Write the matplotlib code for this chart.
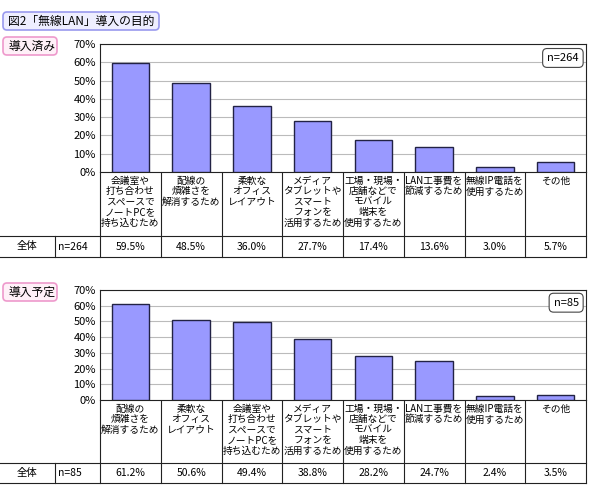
import matplotlib.pyplot as plt
from matplotlib.patches import FancyBboxPatch, Rectangle

plt.rcParams['font.family'] = ['Noto Sans CJK JP', 'DejaVu Sans']

title = "図2「無線LAN」導入の目的"

done_labels = ["会議室や\n打ち合わせ\nスペースで\nノートPCを\n持ち込むため", "配線の\n煩雑さを\n解消するため",
               "柔軟な\nオフィス\nレイアウト", "メディア\nタブレットや\nスマート\nフォンを\n活用するため",
               "工場・現場・\n店舗などで\nモバイル\n端末を\n使用するため", "LAN工事費を\n節減するため",
               "無線IP電話を\n使用するため", "その他"]
done_values = [59.5, 48.5, 36.0, 27.7, 17.4, 13.6, 3.0, 5.7]
done_n = 264

plan_labels = ["配線の\n煩雑さを\n解消するため", "柔軟な\nオフィス\nレイアウト",
               "会議室や\n打ち合わせ\nスペースで\nノートPCを\n持ち込むため", "メディア\nタブレットや\nスマート\nフォンを\n活用するため",
               "工場・現場・\n店舗などで\nモバイル\n端末を\n使用するため", "LAN工事費を\n節減するため",
               "無線IP電話を\n使用するため", "その他"]
plan_values = [61.2, 50.6, 49.4, 38.8, 28.2, 24.7, 2.4, 3.5]
plan_n = 85

W, H = 590, 495
fig = plt.figure(figsize=(W / 100, H / 100), dpi=100)
bg = fig.add_axes([0, 0, 1, 1])
bg.set_xlim(0, W)
bg.set_ylim(H, 0)
bg.axis('off')

X0, X1 = 100, 586


def tag(x, y, w, h, text, edge, face):
    bg.add_patch(FancyBboxPatch((x, y), w, h, boxstyle="round,pad=0,rounding_size=4",
                                ec=edge, fc=face, lw=1.2))
    bg.text(x + 5, y + h / 2, text, fontsize=8.5, va='center', ha='left')


tag(3, 12, 156, 18, title, '#9999ee', '#eeeeff')


def panel(top, bottom, lab_bottom, row_bottom, name, labels, values, n):
    tag(3, top - 7, 54, 18, name, '#ee99cc', '#fff0f8')
    ax = fig.add_axes([X0 / W, 1 - bottom / H, (X1 - X0) / W, (bottom - top) / H])
    ax.bar(range(len(values)), values, width=0.62, color='#9999ff', edgecolor='#222244', lw=1, zorder=3)
    ax.set_xlim(-0.5, len(values) - 0.5)
    ax.set_ylim(0, 70)
    ax.set_yticks(range(0, 71, 10))
    ax.set_yticklabels([f"{v}%" for v in range(0, 71, 10)], fontsize=8)
    ax.yaxis.grid(True, color='#bbbbbb', lw=0.8, zorder=0)
    ax.set_xticks([])
    ax.tick_params(axis='y', length=0, pad=3)
    for s in ax.spines.values():
        s.set_color('#222222')
    ax.text(0.985, 0.93, f"n={n}", transform=ax.transAxes, ha='right', va='top', fontsize=8,
            bbox=dict(boxstyle="round,pad=0.4,rounding_size=0.4", fc='white', ec='#444444', lw=0.8))
    colw = (X1 - X0) / len(values)
    row_top = lab_bottom
    # table borders
    bg.plot([X0, X0], [bottom, row_bottom], color='#222222', lw=0.8)
    bg.plot([0, X1], [row_top, row_top], color='#222222', lw=0.8)
    bg.plot([0, X1], [row_bottom, row_bottom], color='#222222', lw=0.8)
    bg.plot([55, 55], [row_top, row_bottom], color='#222222', lw=0.8)
    bg.plot([X1, X1], [bottom, row_bottom], color='#222222', lw=0.8)
    ymid = (row_top + row_bottom) / 2
    bg.text(27, ymid, "全体", ha='center', va='center', fontsize=7.5)
    bg.text(58, ymid, f"n={n}", ha='left', va='center', fontsize=7.5)
    for i, (lab, v) in enumerate(zip(labels, values)):
        x = X0 + i * colw
        if i > 0:
            bg.plot([x, x], [bottom, row_bottom], color='#222222', lw=0.8)
        bg.text(x + colw / 2, bottom + 4, lab, ha='center', va='top', fontsize=7, linespacing=1.05)
        bg.text(x + colw / 2, ymid, f"{v:.1f}%", ha='center', va='center', fontsize=7.5)


panel(44, 172, 236, 257, "導入済み", done_labels, done_values, done_n)
panel(290, 400, 463, 483, "導入予定", plan_labels, plan_values, plan_n)

fig.savefig("out.png", dpi=100)
